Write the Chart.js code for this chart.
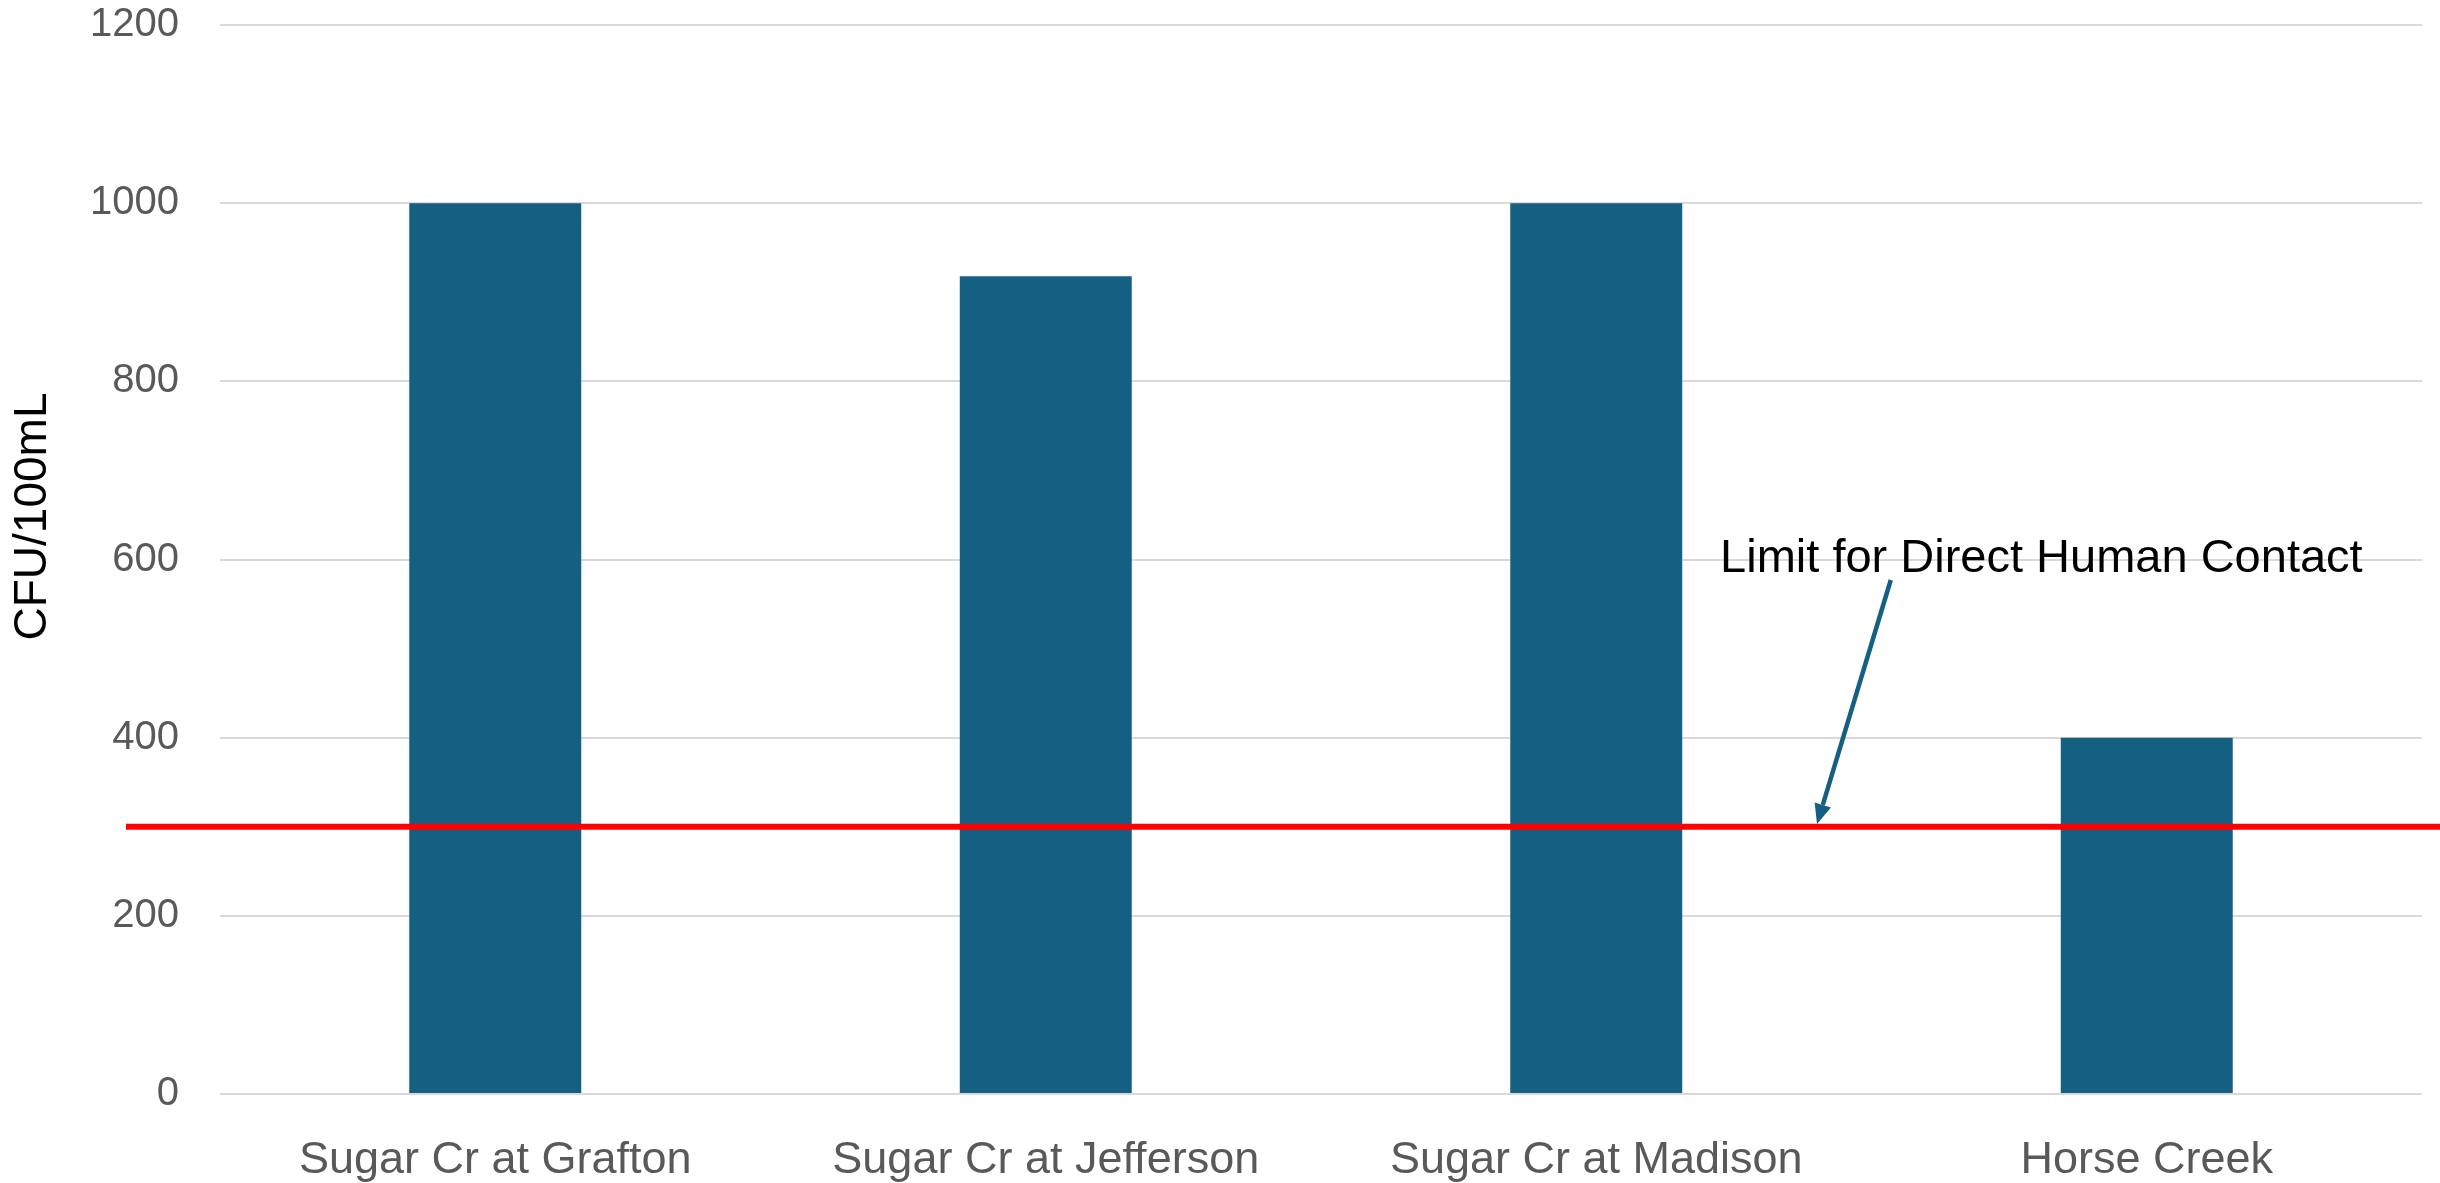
<!DOCTYPE html>
<html>
<head>
<meta charset="utf-8">
<script src="https://cdn.jsdelivr.net/npm/chart.js@4/dist/chart.umd.min.js"></script>
<style>
  html, body { margin: 0; padding: 0; background: #ffffff; }
  canvas { display: block; }
</style>
</head>
<body>
<canvas id="chart" width="2440" height="1183"></canvas>
<script>
// Sampling sites and E. coli counts
const sites = ['Sugar Cr at Grafton', 'Sugar Cr at Jefferson', 'Sugar Cr at Madison', 'Horse Creek'];
const cfu = [1000, 918, 1000, 400];
const yTicks = [0, 200, 400, 600, 800, 1000, 1200];

// Recreational limit and its callout
const contactLimit = 300;
const limitLabel = 'Limit for Direct Human Contact';
const axisTitle = 'CFU/100mL';
// callout placement in axis units: [category position, CFU]
const labelAt = [2.225, 601];
const arrowFrom = [2.535, 577];
const arrowTo = [2.401, 303];

const BAR_COLOR = '#156082';
const TEXT_GREY = '#595959';
const FONT = '"Liberation Sans", Arial, sans-serif';

const overlay = {
  id: 'limitOverlay',
  afterDatasetsDraw(chart) {
    const { ctx, chartArea, scales: { x, y } } = chart;
    ctx.save();

    // red limit line, running past the plot on both sides
    const ly = y.getPixelForValue(contactLimit);
    ctx.strokeStyle = '#FF0000';
    ctx.lineWidth = 6;
    ctx.beginPath();
    ctx.moveTo(chartArea.left - 94, ly);
    ctx.lineTo(chart.width, ly);
    ctx.stroke();

    // callout text
    ctx.fillStyle = '#000000';
    ctx.font = '47px ' + FONT;
    ctx.textAlign = 'left';
    ctx.textBaseline = 'middle';
    ctx.fillText(limitLabel, x.getPixelForValue(labelAt[0]), y.getPixelForValue(labelAt[1]));

    // arrow from callout to the line
    const x0 = x.getPixelForValue(arrowFrom[0]), y0 = y.getPixelForValue(arrowFrom[1]);
    const x1 = x.getPixelForValue(arrowTo[0]), y1 = y.getPixelForValue(arrowTo[1]);
    const ang = Math.atan2(y1 - y0, x1 - x0);
    const headLen = 20, headHalf = 8.5;
    const bx = x1 - headLen * Math.cos(ang), by = y1 - headLen * Math.sin(ang);
    ctx.strokeStyle = BAR_COLOR;
    ctx.fillStyle = BAR_COLOR;
    ctx.lineWidth = 4.5;
    ctx.beginPath();
    ctx.moveTo(x0, y0);
    ctx.lineTo(bx, by);
    ctx.stroke();
    ctx.beginPath();
    ctx.moveTo(x1, y1);
    ctx.lineTo(bx + headHalf * Math.sin(ang), by - headHalf * Math.cos(ang));
    ctx.lineTo(bx - headHalf * Math.sin(ang), by + headHalf * Math.cos(ang));
    ctx.closePath();
    ctx.fill();

    // vertical axis title
    ctx.fillStyle = '#000000';
    ctx.font = '46px ' + FONT;
    ctx.textAlign = 'center';
    ctx.textBaseline = 'middle';
    ctx.translate(33, (chartArea.top + chartArea.bottom) / 2 - 43);
    ctx.rotate(-Math.PI / 2);
    ctx.fillText(axisTitle, 0, 0);

    ctx.restore();
  }
};

new Chart(document.getElementById('chart'), {
  type: 'bar',
  data: {
    labels: sites,
    datasets: [{
      data: cfu,
      backgroundColor: BAR_COLOR,
      borderWidth: 0,
      barPercentage: 0.3124,
      categoryPercentage: 1
    }]
  },
  options: {
    responsive: false,
    animation: false,
    devicePixelRatio: 1,
    layout: { padding: { top: 25, right: 18, left: 0, bottom: 0 } },
    plugins: {
      legend: { display: false },
      tooltip: { enabled: false }
    },
    scales: {
      x: {
        grid: { display: false, drawTicks: false },
        border: { display: false },
        ticks: {
          color: TEXT_GREY,
          font: { family: FONT, size: 45 },
          padding: 40,
          maxRotation: 0,
          autoSkip: false
        },
        afterFit(scale) {
          scale.height = 89;
          scale.paddingLeft = 0;
          scale.paddingRight = 0;
        }
      },
      y: {
        min: 0,
        max: 1200,
        afterBuildTicks(scale) { scale.ticks = yTicks.map(v => ({ value: v })); },
        grid: { color: '#D9D9D9', lineWidth: 2, drawTicks: false },
        border: { display: false },
        ticks: {
          color: TEXT_GREY,
          font: { family: FONT, size: 40 },
          padding: 41,
          callback: (v) => String(v)
        },
        afterFit(scale) {
          scale.width = 220;
          scale.paddingTop = 0;
          scale.paddingBottom = 0;
        }
      }
    }
  },
  plugins: [overlay]
});
</script>
</body>
</html>
